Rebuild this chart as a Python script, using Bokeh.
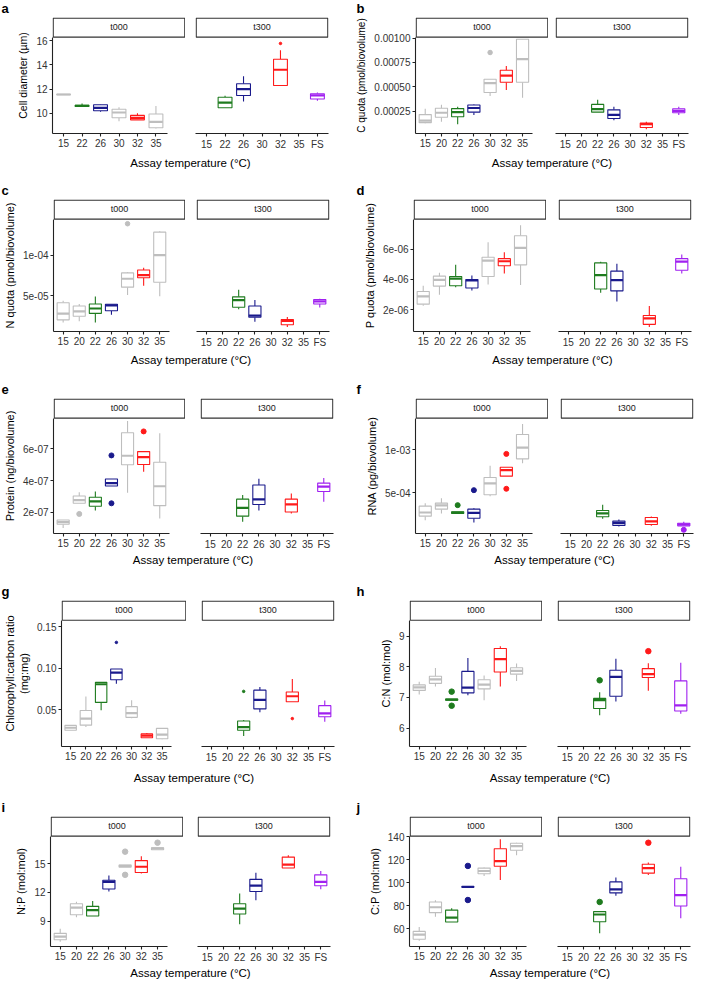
from bokeh.plotting import figure
from bokeh.models import Range1d, FixedTicker, Label, ColumnDataSource
from bokeh.layouts import row, column
from bokeh.transform import dodge
from bokeh.embed import file_html
from bokeh.resources import INLINE

# ---------------- data ----------------
TEMPS_A = ["15", "22", "26", "30", "32", "35", "FS"]
TEMPS = ["15", "20", "22", "26", "30", "32", "35", "FS"]
FACETS = ["t000", "t300"]
X_TITLE = "Assay temperature (°C)"

# (temperature, lower whisker, q1, median, q3, upper whisker, outliers)
A_T000 = [("15", 11.53, 11.53, 11.55, 11.57, 11.57, []),
          ("22", 10.55, 10.56, 10.60, 10.65, 10.80, []),
          ("26", 10.12, 10.20, 10.45, 10.70, 10.72, []),
          ("30", 9.33, 9.62, 10.06, 10.33, 10.50, []),
          ("32", 9.43, 9.45, 9.62, 9.82, 9.99, []),
          ("35", 8.73, 8.80, 9.28, 9.94, 10.59, [])]
A_T300 = [("22", 10.43, 10.45, 10.88, 11.32, 11.44, []),
          ("26", 10.98, 11.47, 12.00, 12.44, 13.07, []),
          ("32", 12.29, 12.29, 13.60, 14.47, 15.22, [15.78]),
          ("FS", 11.03, 11.18, 11.47, 11.61, 11.71, [])]

B_T000 = [("15", 0.000124, 0.000130, 0.000151, 0.000213, 0.000272, []),
          ("20", 0.000139, 0.000185, 0.000232, 0.000278, 0.000315, []),
          ("22", 0.000114, 0.000191, 0.000238, 0.000275, 0.000293, []),
          ("26", 0.000210, 0.000238, 0.000281, 0.000312, 0.000318, []),
          ("30", 0.000404, 0.000441, 0.000537, 0.000577, 0.000580, [0.000852]),
          ("32", 0.000466, 0.000546, 0.000614, 0.000670, 0.000713, []),
          ("35", 0.000386, 0.000546, 0.000784, 0.000988, 0.000990, [])]
B_T300 = [("22", 0.000238, 0.000238, 0.000269, 0.000318, 0.000367, []),
          ("26", 0.000154, 0.000173, 0.000210, 0.000262, 0.000293, []),
          ("32", 0.0000618, 0.000080, 0.000114, 0.000127, 0.000139, []),
          ("FS", 0.000210, 0.000232, 0.000250, 0.000272, 0.000293, [])]

C_T000 = [("15", 1.68e-5, 2.00e-5, 2.76e-5, 4.12e-5, 4.36e-5, []),
          ("20", 1.84e-5, 2.44e-5, 3.04e-5, 3.72e-5, 3.96e-5, []),
          ("22", 1.68e-5, 2.80e-5, 3.40e-5, 3.96e-5, 4.88e-5, []),
          ("26", 2.64e-5, 3.12e-5, 3.80e-5, 3.92e-5, 3.92e-5, []),
          ("30", 5.08e-5, 6.04e-5, 7.08e-5, 7.80e-5, 7.88e-5, [1.388e-4]),
          ("32", 6.20e-5, 7.20e-5, 7.52e-5, 8.16e-5, 8.44e-5, []),
          ("35", 4.92e-5, 6.64e-5, 1.00e-4, 1.284e-4, 1.296e-4, [])]
C_T300 = [("22", 3.32e-5, 3.56e-5, 4.44e-5, 4.84e-5, 5.72e-5, []),
          ("26", 1.76e-5, 2.32e-5, 2.52e-5, 3.72e-5, 4.44e-5, []),
          ("32", 1.12e-5, 1.40e-5, 1.88e-5, 2.04e-5, 2.36e-5, []),
          ("FS", 3.52e-5, 3.96e-5, 4.28e-5, 4.52e-5, 4.60e-5, [])]

D_T000 = [("15", 2.26e-6, 2.36e-6, 2.88e-6, 3.20e-6, 3.58e-6, []),
          ("20", 2.98e-6, 3.56e-6, 3.97e-6, 4.22e-6, 4.44e-6, []),
          ("22", 3.48e-6, 3.58e-6, 4.05e-6, 4.20e-6, 4.97e-6, []),
          ("26", 3.26e-6, 3.43e-6, 3.93e-6, 3.99e-6, 4.27e-6, []),
          ("30", 3.67e-6, 4.20e-6, 5.25e-6, 5.47e-6, 6.47e-6, []),
          ("32", 4.40e-6, 4.91e-6, 5.21e-6, 5.38e-6, 5.81e-6, []),
          ("35", 3.63e-6, 4.97e-6, 6.09e-6, 6.90e-6, 7.60e-6, [])]
D_T300 = [("22", 3.11e-6, 3.37e-6, 4.29e-6, 5.10e-6, 5.17e-6, []),
          ("26", 2.53e-6, 3.24e-6, 3.95e-6, 4.55e-6, 5.04e-6, []),
          ("32", 0.845e-6, 1.02e-6, 1.42e-6, 1.61e-6, 2.24e-6, []),
          ("FS", 4.40e-6, 4.61e-6, 5.19e-6, 5.38e-6, 5.66e-6, [])]

E_T000 = [("15", 1.01e-7, 1.25e-7, 1.39e-7, 1.515e-7, 1.515e-7, []),
          ("20", 2.57e-7, 2.57e-7, 2.77e-7, 3.03e-7, 3.27e-7, [1.90e-7]),
          ("22", 2.12e-7, 2.38e-7, 2.69e-7, 2.95e-7, 3.31e-7, []),
          ("26", 3.66e-7, 3.66e-7, 3.84e-7, 4.10e-7, 4.10e-7, [5.58e-7, 2.57e-7]),
          ("30", 3.23e-7, 4.99e-7, 5.56e-7, 7.01e-7, 7.74e-7, []),
          ("32", 4.55e-7, 5.01e-7, 5.47e-7, 5.82e-7, 5.82e-7, [7.09e-7]),
          ("35", 1.62e-7, 2.42e-7, 3.64e-7, 5.15e-7, 6.97e-7, [])]
E_T300 = [("22", 1.41e-7, 1.76e-7, 2.28e-7, 2.83e-7, 3.09e-7, []),
          ("26", 2.12e-7, 2.49e-7, 2.81e-7, 3.72e-7, 4.12e-7, []),
          ("32", 1.92e-7, 2.02e-7, 2.50e-7, 2.83e-7, 3.19e-7, []),
          ("FS", 2.67e-7, 3.31e-7, 3.62e-7, 3.84e-7, 4.16e-7, [])]

F_T000 = [("15", 1.82e-4, 2.29e-4, 2.71e-4, 3.45e-4, 3.80e-4, []),
          ("20", 2.60e-4, 3.10e-4, 3.53e-4, 3.80e-4, 4.38e-4, []),
          ("22", 2.60e-4, 2.60e-4, 2.71e-4, 2.79e-4, 2.79e-4, [3.57e-4]),
          ("26", 1.55e-4, 2.05e-4, 2.67e-4, 3.10e-4, 3.22e-4, [5.31e-4]),
          ("30", 4.61e-4, 4.77e-4, 6.09e-4, 6.78e-4, 8.14e-4, []),
          ("32", 6.94e-4, 6.94e-4, 7.64e-4, 7.98e-4, 7.98e-4, [9.53e-4, 5.47e-4]),
          ("35", 8.45e-4, 8.95e-4, 1.027e-3, 1.178e-3, 1.302e-3, [])]
F_T300 = [("22", 1.98e-4, 2.21e-4, 2.60e-4, 2.95e-4, 3.60e-4, []),
          ("26", 1.08e-4, 1.20e-4, 1.47e-4, 1.71e-4, 1.90e-4, []),
          ("32", 1.16e-4, 1.32e-4, 1.67e-4, 2.13e-4, 2.25e-4, []),
          ("FS", 1.16e-4, 1.16e-4, 1.32e-4, 1.47e-4, 1.63e-4, [7.0e-5])]

G_T000 = [("15", 0.0254, 0.0254, 0.0285, 0.0313, 0.0313, []),
          ("20", 0.0293, 0.0316, 0.0395, 0.0492, 0.0660, []),
          ("22", 0.0496, 0.0590, 0.0809, 0.0832, 0.0832, []),
          ("26", 0.0816, 0.0863, 0.0949, 0.0992, 0.0992, [0.1313]),
          ("30", 0.0398, 0.0410, 0.0461, 0.0539, 0.0617, []),
          ("32", 0.0164, 0.0164, 0.0191, 0.0211, 0.0223, []),
          ("35", 0.0145, 0.0152, 0.0203, 0.0277, 0.0277, [])]
G_T300 = [("22", 0.0184, 0.0254, 0.0293, 0.0367, 0.0379, [0.0723]),
          ("26", 0.0473, 0.0512, 0.0621, 0.0738, 0.0777, []),
          ("32", 0.0598, 0.0598, 0.0664, 0.0715, 0.0871, [0.0395]),
          ("FS", 0.0356, 0.0418, 0.0457, 0.0551, 0.0613, [])]

H_T000 = [("15", 7.10, 7.23, 7.33, 7.41, 7.51, []),
          ("20", 7.36, 7.46, 7.59, 7.69, 7.96, []),
          ("22", 6.91, 6.91, 6.93, 6.95, 6.95, [7.19, 6.73]),
          ("26", 7.07, 7.15, 7.32, 7.85, 8.29, []),
          ("30", 6.91, 7.28, 7.42, 7.58, 7.72, []),
          ("32", 7.36, 7.83, 8.25, 8.60, 8.67, []),
          ("35", 7.54, 7.76, 7.87, 7.97, 8.11, [])]
H_T300 = [("22", 6.42, 6.64, 6.91, 6.97, 7.17, [7.56]),
          ("26", 6.87, 7.04, 7.67, 7.89, 8.26, []),
          ("32", 7.22, 7.65, 7.76, 7.94, 8.12, [8.51]),
          ("FS", 6.47, 6.56, 6.74, 7.54, 8.13, [])]

I_T000 = [("15", 6.84, 7.04, 7.38, 7.72, 8.19, []),
          ("20", 9.40, 9.67, 10.42, 10.82, 11.02, []),
          ("22", 9.54, 9.54, 10.15, 10.55, 11.12, []),
          ("26", 12.10, 12.37, 13.11, 13.28, 13.79, []),
          ("30", 14.66, 14.66, 14.80, 14.87, 14.87, [16.28, 13.85]),
          ("32", 13.99, 14.09, 14.70, 15.34, 15.81, []),
          ("35", 16.48, 16.48, 16.62, 16.69, 16.69, [17.22])]
I_T300 = [("22", 8.66, 9.74, 10.31, 10.82, 11.90, []),
          ("26", 11.19, 12.10, 12.71, 13.38, 14.06, []),
          ("32", 14.56, 14.56, 14.93, 15.71, 15.91, []),
          ("FS", 12.34, 12.71, 13.11, 13.85, 14.26, [])]

J_T000 = [("15", 49.4, 50.7, 54.8, 57.55, 61.4, []),
          ("20", 70.4, 73.9, 78.6, 83.2, 84.6, []),
          ("22", 65.7, 65.7, 69.6, 76.1, 77.8, []),
          ("26", 96.0, 96.0, 96.3, 96.6, 96.6, [114.6, 84.9]),
          ("30", 105.9, 107.8, 110.2, 112.7, 113.2, []),
          ("32", 102.3, 114.3, 118.7, 129.6, 137.8, []),
          ("35", 123.9, 128.3, 131.8, 134.3, 134.8, [])]
J_T300 = [("22", 55.9, 66.0, 72.3, 74.8, 74.8, [83.2]),
          ("26", 88.7, 91.1, 94.1, 100.7, 104.5, []),
          ("32", 106.7, 108.3, 112.7, 116.0, 117.6, [134.8]),
          ("FS", 69.0, 79.7, 89.2, 103.4, 113.8, [])]

# y axis: ticks, tick labels, (axis start, top of panel area)
A_YTICKS, A_YLABELS, A_YLIM = [10, 12, 14, 16], ["10", "12", "14", "16"], (8.32, 16.3)
B_YTICKS, B_YLABELS, B_YLIM = [0.00025, 0.0005, 0.00075, 0.001], ["0.00025", "0.00050", "0.00075", "0.00100"], (0.0000185, 0.00101)
C_YTICKS, C_YLABELS, C_YLIM = [5e-5, 1e-4], ["5e-05", "1e-04"], (5.6e-6, 1.444e-4)
D_YTICKS, D_YLABELS, D_YLIM = [2e-6, 4e-6, 6e-6], ["2e-06", "4e-06", "6e-06"], (0.545e-6, 8.0e-6)
E_YTICKS, E_YLABELS, E_YLIM = [2e-7, 4e-7, 6e-7], ["2e-07", "4e-07", "6e-07"], (0.67e-7, 7.92e-7)
F_YTICKS, F_YLABELS, F_YLIM = [5e-4, 1e-3], ["5e-04", "1e-03"], (2.7e-5, 1.368e-3)
G_YTICKS, G_YLABELS, G_YLIM = [0.05, 0.10, 0.15], ["0.05", "0.10", "0.15"], (0.0059, 0.158)
H_YTICKS, H_YLABELS, H_YLIM = [6, 7, 8, 9], ["6", "7", "8", "9"], (5.4, 9.52)
I_YTICKS, I_YLABELS, I_YLIM = [9, 12, 15], ["9", "12", "15"], (6.34, 17.9)
J_YTICKS, J_YLABELS, J_YLIM = [60, 80, 100, 120, 140], ["60", "80", "100", "120", "140"], (44.4, 140.5)

Y_TITLES = {"a": "Cell diameter (µm)", "b": "C quota (pmol/biovolume)",
            "c": "N quota (pmol/biovolume)", "d": "P quota (pmol/biovolume)",
            "e": "Protein (ng/biovolume)", "f": "RNA (pg/biovolume)",
            "g": "Chlorophyll:carbon ratio\n(mg:mg)", "h": "C:N (mol:mol)",
            "i": "N:P (mol:mol)", "j": "C:P (mol:mol)"}

# ---------------- style / layout ----------------
FONT = "Liberation Sans"
GRAY, GREEN, NAVY, RED, PURPLE = "#BEBEBE", "#1E7B1E", "#1A1A8C", "#FF1A1A", "#A020F0"
COLORS = {"15": GRAY, "20": GRAY, "22": GREEN, "26": NAVY, "30": GRAY,
          "32": RED, "35": GRAY, "FS": PURPLE}
AXIS_COL = "#222222"
STRIP_H = 20
BOTTOM = 17
W = 133
TOTAL_H = 979
COL_W = [348, 349]
LETTER_X = [1, 8]
LETTER_PX = 13
# page rows (canvas px): strip top, frame bottom, x-title centre of that row, letter baseline
STRIP_TOP = [17, 199, 398, 600, 816]
FRAME_BOTTOM = [135, 333, 535, 748, 948]
TITLE_C = [162, 359, 559, 777, 972]
LETTER_BASE = [13, 195, 394, 596, 812]
Y_TITLE_PX = {"a": "10.5px", "b": "10px"}


def style_axis(ax):
    ax.axis_line_color = AXIS_COL
    ax.axis_line_width = 1.1
    ax.major_tick_line_color = AXIS_COL
    ax.major_tick_line_width = 1.1
    ax.major_tick_out = 3
    ax.major_tick_in = 0
    ax.minor_tick_line_color = None
    ax.major_label_text_font = FONT
    ax.major_label_text_font_size = "10px"
    ax.major_label_text_color = "#333333"
    ax.major_label_standoff = 2
    ax.axis_label_text_font = FONT
    ax.axis_label_text_font_style = "normal"
    ax.axis_label_text_font_size = "11px"
    ax.axis_label_text_color = "#000000"


def facet(stats, temps, shown, strip_text, ylim, yticks, ylabels, side, L, gap, R, frame_h,
          letter, pt):
    n = len(temps)
    x_lo, x_hi = 0.4, n + 0.6
    y_lo, y_top = ylim
    k = (y_top - y_lo) / (frame_h - STRIP_H)
    kx = (x_hi - x_lo) / W
    y_end = y_top + STRIP_H * k
    if side == "left":
        width, mbl, mbr, yloc = L + W, L, 0, "left"
    else:
        width, mbl, mbr, yloc = gap + W + R, gap, R, None
    p = figure(width=width, height=frame_h + BOTTOM,
               x_range=Range1d(x_lo, x_hi), y_range=Range1d(y_lo, y_end),
               toolbar_location=None, output_backend="svg",
               min_border_left=mbl, min_border_right=mbr,
               min_border_top=0, min_border_bottom=BOTTOM,
               y_axis_location=yloc)
    p.outline_line_color = None
    p.grid.visible = False
    p.background_fill_color = "white"
    p.border_fill_color = "white"

    # facet strip
    p.quad(left=[x_lo + 0.7 * kx], right=[x_hi - 0.7 * kx], bottom=[y_top],
           top=[y_end - 0.7 * k], fill_color="white", line_color="#333333", line_width=1.2)
    p.add_layout(Label(x=(x_lo + x_hi) / 2, y=y_top + STRIP_H * k / 2, text=strip_text,
                       text_align="center", text_baseline="middle",
                       text_font=FONT, text_font_size="9px", text_color="#1A1A1A"))

    # boxplots
    src = ColumnDataSource(dict(
        x=[temps.index(s[0]) + 1 for s in stats],
        lw=[s[1] for s in stats], q1=[s[2] for s in stats], med=[s[3] for s in stats],
        q3=[s[4] for s in stats], uw=[s[5] for s in stats],
        color=[COLORS[s[0]] for s in stats]))
    p.segment(x0="x", y0="q3", x1="x", y1="uw", line_color="color", line_width=1.1, source=src)
    p.segment(x0="x", y0="lw", x1="x", y1="q1", line_color="color", line_width=1.1, source=src)
    p.vbar(x="x", width=0.75, bottom="q1", top="q3", fill_color="white",
           line_color="color", line_width=1.1, source=src)
    p.segment(x0=dodge("x", -0.375, range=p.x_range), y0="med",
              x1=dodge("x", 0.375, range=p.x_range), y1="med",
              line_color="color", line_width=2.2, source=src)
    ox, oy, oc = [], [], []
    for s in stats:
        for o in s[6]:
            ox.append(temps.index(s[0]) + 1)
            oy.append(o)
            oc.append(COLORS[s[0]])
    if ox:
        p.scatter(x=ox, y=oy, color=oc, size=pt)

    xa = p.xaxis[0]
    style_axis(xa)
    xa.ticker = FixedTicker(ticks=list(range(1, len(shown) + 1)))
    xa.major_label_overrides = {i + 1: t for i, t in enumerate(shown)}
    if side == "left":
        xa.bounds = (x_lo, len(shown) + 0.6)
        ya = p.yaxis[0]
        style_axis(ya)
        ya.ticker = FixedTicker(ticks=yticks)
        ya.major_label_overrides = dict(zip(yticks, ylabels))
        ya.bounds = (y_lo, y_top)
        ya.axis_label = Y_TITLES[letter]
        ya.axis_label_text_font_size = Y_TITLE_PX.get(letter, "11px")
        ya.axis_label_standoff = 4
    return p


def facet_pair(spec, col, r):
    letter, s0, s1, temps, ylim, yticks, ylabels, L, gap, pt = spec
    R = COL_W[col] - L - W - gap - W
    frame_h = FRAME_BOTTOM[r] - STRIP_TOP[r]
    left = facet(s0, temps, temps[:-1], FACETS[0], ylim, yticks, ylabels, "left",
                 L, gap, R, frame_h, letter, pt)
    right = facet(s1, temps, temps, FACETS[1], ylim, yticks, ylabels, "right",
                  L, gap, R, frame_h, letter, pt)
    return row(left, right)


def band(col, top, bottom, title_spec, title_c, letter, letter_base):
    w = COL_W[col]
    h = bottom - top
    f = figure(width=w, height=h, x_range=Range1d(0, w), y_range=Range1d(0, h),
               toolbar_location=None, output_backend="svg",
               min_border_left=0, min_border_right=0, min_border_top=0, min_border_bottom=0,
               x_axis_location=None, y_axis_location=None)
    f.outline_line_color = None
    f.grid.visible = False
    if title_spec is not None:
        L, gap = title_spec[7], title_spec[8]
        f.add_layout(Label(x=L + (2 * W + gap) / 2, y=h - (title_c - top), text=X_TITLE,
                           text_align="center", text_baseline="middle",
                           text_font=FONT, text_font_size="11.5px", text_color="#000000"))
    if letter is not None:
        mid = letter_base - 0.35 * LETTER_PX
        f.add_layout(Label(x=LETTER_X[col], y=h - (mid - top), text=letter,
                           text_align="left", text_baseline="middle",
                           text_font=FONT, text_font_style="bold",
                           text_font_size="%dpx" % LETTER_PX, text_color="#000000"))
    return f


SPECS = [
    [("a", A_T000, A_T300, TEMPS_A, A_YLIM, A_YTICKS, A_YLABELS, 52, 10, 2.5),
     ("b", B_T000, B_T300, TEMPS, B_YLIM, B_YTICKS, B_YLABELS, 67, 7, 4.5)],
    [("c", C_T000, C_T300, TEMPS, C_YLIM, C_YTICKS, C_YLABELS, 52, 11, 4.5),
     ("d", D_T000, D_T300, TEMPS, D_YLIM, D_YTICKS, D_YLABELS, 65, 12, 4.5)],
    [("e", E_T000, E_T300, TEMPS, E_YLIM, E_YTICKS, E_YLABELS, 52, 15, 5),
     ("f", F_T000, F_T300, TEMPS, F_YLIM, F_YTICKS, F_YLABELS, 67, 12, 5)],
    [("g", G_T000, G_T300, TEMPS, G_YLIM, G_YTICKS, G_YLABELS, 53, 15, 2.5),
     ("h", H_T000, H_T300, TEMPS, H_YLIM, H_YTICKS, H_YLABELS, 61, 15, 5.5)],
    [("i", I_T000, I_T300, TEMPS, I_YLIM, I_YTICKS, I_YLABELS, 50, 14, 5.5),
     ("j", J_T000, J_T300, TEMPS, J_YLIM, J_YTICKS, J_YLABELS, 61, 15, 5.5)],
]

items = []
for r in range(5):
    top = 0 if r == 0 else FRAME_BOTTOM[r - 1] + BOTTOM
    items.append(row(*[band(c, top, STRIP_TOP[r],
                            SPECS[r - 1][c] if r > 0 else None,
                            TITLE_C[r - 1] if r > 0 else 0,
                            SPECS[r][c][0], LETTER_BASE[r]) for c in range(2)]))
    items.append(row(*[facet_pair(SPECS[r][c], c, r) for c in range(2)]))
top = FRAME_BOTTOM[4] + BOTTOM
items.append(row(*[band(c, top, TOTAL_H, SPECS[4][c], TITLE_C[4], None, 0) for c in range(2)]))

layout = column(*items)
open("out.html", "w").write(file_html(layout, INLINE))
